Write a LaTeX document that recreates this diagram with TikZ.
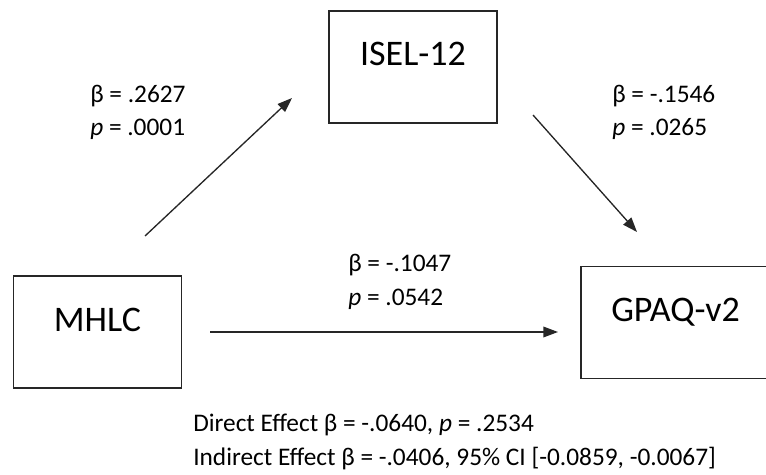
\documentclass[tikz,border=0pt]{standalone}
\usepackage{fontspec}
\setmainfont{Carlito}
\usetikzlibrary{arrows.meta}

\begin{document}
\begin{tikzpicture}[x=0.75pt, y=-0.75pt, >={Triangle[length=11pt,width=8pt]}]
	\tikzstyle{box}=[rectangle, draw=black!85, line width=1pt, minimum width=126pt, minimum height=84pt, inner sep=0pt, font=\fontsize{27}{30}\selectfont, text height=17.25pt, text depth=18.75pt]
	\tikzstyle{annot}=[anchor=base west, inner sep=0pt, font=\fontsize{19}{23}\selectfont]
	\tikzstyle{arrow}=[->, line width=1pt, draw=black!85]
	
	\useasboundingbox (0,0) rectangle (766,474);
	\clip (0,0) rectangle (766,474);
	
	% Draw the three boxes
	\node[box] (mhlc) at (97.5,332) {MHLC};
	\node[box] (isel) at (413,67) {ISEL-12};
	\node[box, minimum width=141.75pt] (gpaq) at (675.5,322.5) {GPAQ-v2};
	
	% Arrow ends
	\coordinate (a1s) at (145,236);
	\coordinate (a1e) at (292,98);
	\coordinate (a2s) at (533,115);
	\coordinate (a2e) at (637,232);
	\coordinate (a3s) at (210,332);
	\coordinate (a3e) at (558,332);
	
	% Draw arrows
	\draw[arrow] (a1s) -- (a1e);
	\draw[arrow] (a2s) -- (a2e);
	\draw[arrow] (a3s) -- (a3e);
	
	% Path coefficients
	\node[annot] (b1) at (90,103) {β = .2627};
	\node[annot] (p1) at (90,135.5) {\textit{p} = .0001};
	\node[annot] (b2) at (612,103) {β = -.1546};
	\node[annot] (p2) at (612,136) {\textit{p} = .0265};
	\node[annot] (b3) at (348,271.5) {β = -.1047};
	\node[annot] (p3) at (348,305.5) {\textit{p} = .0542};
	
	% Effects
	\node[annot] (direct) at (193,431.5) {Direct Effect β = -.0640, \textit{p} = .2534};
	\node[annot] (indirect) at (193,465.5) {Indirect Effect β = -.0406, 95\% CI [-0.0859, -0.0067]};
	
\end{tikzpicture}
\end{document}
